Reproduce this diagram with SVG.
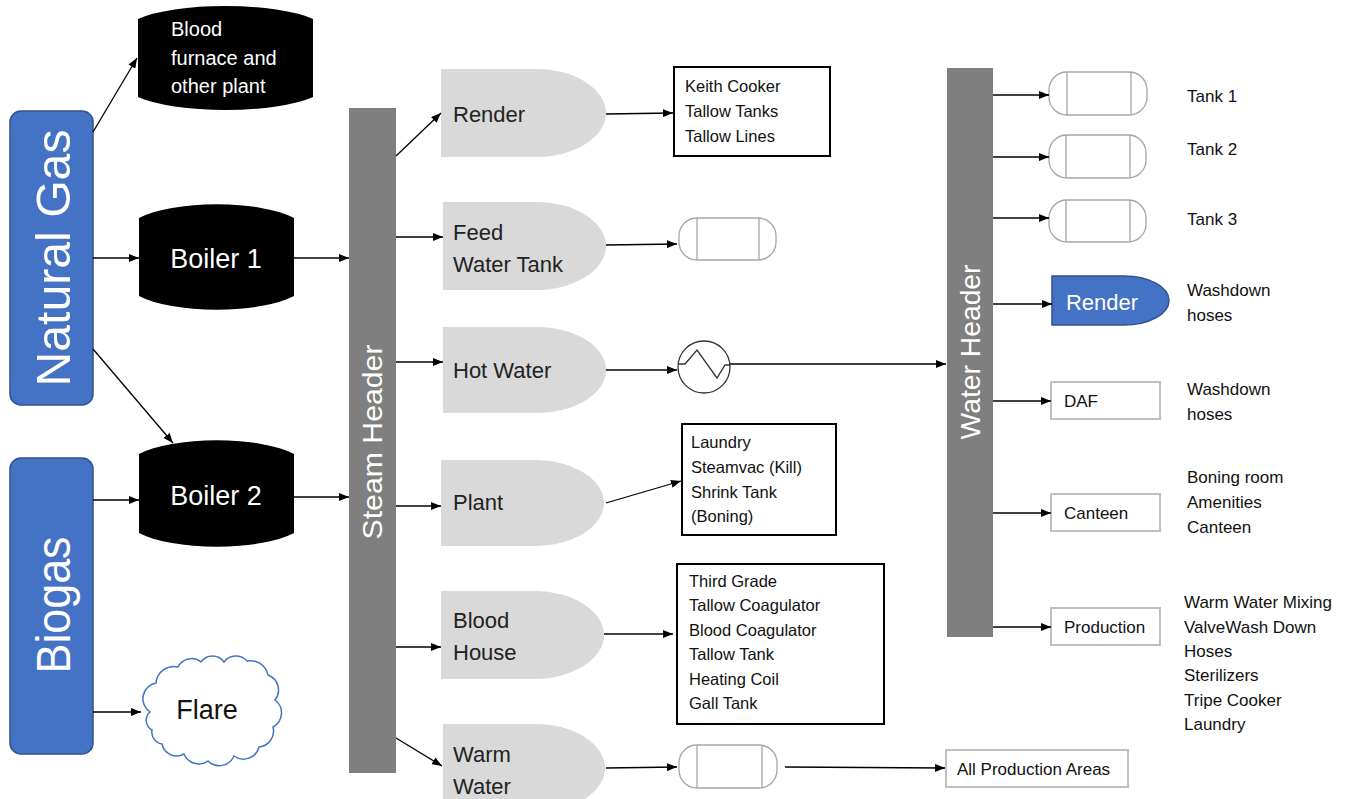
<svg xmlns="http://www.w3.org/2000/svg" width="1354" height="799" viewBox="0 0 1354 799">
<style>
text{font-family:"Liberation Sans",Arial,sans-serif;}
.src{fill:#4472c4;stroke:#2f528f;stroke-width:1.5;}
.src-t{fill:#fff;font-size:48px;}
.drum{fill:#000;}
.drum-t{fill:#fff;font-size:27px;}
.hdr{fill:#7f7f7f;}
.hdr-t{fill:#fff;font-size:28px;}
.dsh{fill:#d9d9d9;}
.dsh-t{fill:#222;font-size:22px;}
.box{fill:#fff;stroke:#000;stroke-width:2;}
.gbox{fill:#fff;stroke:#bfbfbf;stroke-width:2;}
.tank{fill:#fff;stroke:#a6a6a6;stroke-width:1.3;}
.sm{fill:#111;font-size:16.5px;}
.lbl{fill:#111;font-size:17px;}
.conn line,.conn polyline{stroke:#000;stroke-width:1.3;fill:none;}
</style>
<defs>
<marker id="arr" markerUnits="userSpaceOnUse" markerWidth="10" markerHeight="8" refX="10" refY="4" orient="auto">
<path d="M0,0 L10,4 L0,8 Z" fill="#000"/>
</marker>
</defs>

<g id="natural-gas">
<rect class="src" x="10" y="111" width="83" height="294" rx="11"/>
<text class="src-t" transform="translate(70,258) rotate(-90)" text-anchor="middle" textLength="257" lengthAdjust="spacingAndGlyphs">Natural Gas</text>
</g>
<g id="biogas">
<rect class="src" x="10" y="458" width="83" height="296" rx="11"/>
<text class="src-t" transform="translate(70,605) rotate(-90)" text-anchor="middle" textLength="137" lengthAdjust="spacingAndGlyphs">Biogas</text>
</g>

<g id="blood-furnace">
<path class="drum" d="M138,19 A100,25 0 0 1 313,19 L313,97 A100,25 0 0 1 138,97 Z"/>
<text class="drum-t" style="font-size:20px" x="171" y="36">Blood</text>
<text class="drum-t" style="font-size:20px" x="171" y="65">furnace and</text>
<text class="drum-t" style="font-size:20px" x="171" y="93">other plant</text>
</g>
<g id="boiler-1">
<path class="drum" d="M139,218 A90,28 0 0 1 294,218 L294,296 A90,28 0 0 1 139,296 Z"/>
<text class="drum-t" x="216" y="268" text-anchor="middle">Boiler 1</text>
</g>
<g id="boiler-2">
<path class="drum" d="M139,454 A90,28 0 0 1 294,454 L294,533 A90,28 0 0 1 139,533 Z"/>
<text class="drum-t" x="216" y="505" text-anchor="middle">Boiler 2</text>
</g>
<g id="flare">
<path d="M150,712 A16,16 0 0 1 156,683 A18,18 0 0 1 178,667 A15,15 0 0 1 201,662 A14,14 0 0 1 224,662 A15,15 0 0 1 247,661 A18,18 0 0 1 268,675 A16,16 0 0 1 275,700 A16,16 0 0 1 273,727 A16,16 0 0 1 259,747 A16,16 0 0 1 234,756 A16,16 0 0 1 208,761 A16,16 0 0 1 184,754 A15,15 0 0 1 162,744 A12,12 0 0 1 152,730 A11,11 0 0 1 150,712 Z" fill="#fff" stroke="#4472c4" stroke-width="1.5"/>
<text x="207" y="719" text-anchor="middle" style="font-size:27px;fill:#111">Flare</text>
</g>

<g id="steam-header">
<rect class="hdr" x="349" y="108" width="47" height="665"/>
<text class="hdr-t" transform="translate(382,442) rotate(-90)" text-anchor="middle" textLength="195" lengthAdjust="spacingAndGlyphs">Steam Header</text>
</g>

<g id="render">
<path class="dsh" d="M441,69 H536 A70,44 0 0 1 536,157 H441 Z"/>
<text class="dsh-t" x="453" y="122">Render</text>
</g>
<g id="feed-water-tank">
<path class="dsh" d="M443,202 H536 A70,44 0 0 1 536,290 H443 Z"/>
<text class="dsh-t" x="453" y="240">Feed</text>
<text class="dsh-t" x="453" y="272">Water Tank</text>
</g>
<g id="hot-water">
<path class="dsh" d="M443,327 H536 A70,43 0 0 1 536,413 H443 Z"/>
<text class="dsh-t" x="453" y="378">Hot Water</text>
</g>
<g id="plant">
<path class="dsh" d="M441,460 H534 A70,43 0 0 1 534,546 H441 Z"/>
<text class="dsh-t" x="453" y="510">Plant</text>
</g>
<g id="blood-house">
<path class="dsh" d="M441,591 H534 A70,44 0 0 1 534,679 H441 Z"/>
<text class="dsh-t" x="453" y="628">Blood</text>
<text class="dsh-t" x="453" y="660">House</text>
</g>
<g id="warm-water">
<path class="dsh" d="M443,724 H535 A70,44 0 0 1 535,812 H443 Z"/>
<text class="dsh-t" x="453" y="762">Warm</text>
<text class="dsh-t" x="453" y="794">Water</text>
</g>

<g id="render-list">
<rect class="box" x="674" y="67" width="156" height="89"/>
<text class="sm" x="685" y="92">Keith Cooker</text>
<text class="sm" x="685" y="117">Tallow Tanks</text>
<text class="sm" x="685" y="142">Tallow Lines</text>
</g>
<g id="feed-tank">
<rect class="tank" x="679" y="218" width="97" height="42" rx="18"/>
<line class="tank" x1="697" y1="218" x2="697" y2="260"/>
<line class="tank" x1="759" y1="218" x2="759" y2="260"/>
</g>
<g id="heat-exchanger">
<circle cx="704" cy="367" r="26" fill="#fff" stroke="#333" stroke-width="1.3"/>
<polyline points="678,364 685,364 697,350 717,378 725,365 730,365" fill="none" stroke="#333" stroke-width="1.3"/>
</g>
<g id="plant-list">
<rect class="box" x="682" y="424" width="154" height="111"/>
<text class="sm" x="691" y="448">Laundry</text>
<text class="sm" x="691" y="473">Steamvac (Kill)</text>
<text class="sm" x="691" y="498">Shrink Tank</text>
<text class="sm" x="691" y="522">(Boning)</text>
</g>
<g id="blood-house-list">
<rect class="box" x="677" y="564" width="207" height="160"/>
<text class="sm" x="689" y="587">Third Grade</text>
<text class="sm" x="689" y="611">Tallow Coagulator</text>
<text class="sm" x="689" y="636">Blood Coagulator</text>
<text class="sm" x="689" y="660">Tallow Tank</text>
<text class="sm" x="689" y="685">Heating Coil</text>
<text class="sm" x="689" y="709">Gall Tank</text>
</g>
<g id="warm-tank">
<rect class="tank" x="679" y="745" width="98" height="43" rx="18"/>
<line class="tank" x1="697" y1="745" x2="697" y2="788"/>
<line class="tank" x1="762" y1="745" x2="762" y2="788"/>
</g>
<g id="all-production">
<rect class="gbox" x="946" y="750" width="182" height="37"/>
<text class="lbl" x="957" y="775">All Production Areas</text>
</g>

<g id="water-header">
<rect class="hdr" x="947" y="68" width="46" height="569"/>
<text class="hdr-t" transform="translate(980,352) rotate(-90)" text-anchor="middle" textLength="175" lengthAdjust="spacingAndGlyphs">Water Header</text>
</g>

<g id="tank-1">
<rect class="tank" x="1049" y="72" width="98" height="43" rx="18"/>
<line class="tank" x1="1067" y1="72" x2="1067" y2="115"/>
<line class="tank" x1="1131" y1="72" x2="1131" y2="115"/>
<text class="lbl" x="1187" y="102">Tank 1</text>
</g>
<g id="tank-2">
<rect class="tank" x="1049" y="135" width="97" height="43" rx="18"/>
<line class="tank" x1="1066" y1="135" x2="1066" y2="178"/>
<line class="tank" x1="1130" y1="135" x2="1130" y2="178"/>
<text class="lbl" x="1187" y="155">Tank 2</text>
</g>
<g id="tank-3">
<rect class="tank" x="1049" y="200" width="97" height="42" rx="18"/>
<line class="tank" x1="1066" y1="200" x2="1066" y2="242"/>
<line class="tank" x1="1130" y1="200" x2="1130" y2="242"/>
<text class="lbl" x="1187" y="225">Tank 3</text>
</g>
<g id="render-water">
<path d="M1052,276 H1124 A45,24.5 0 0 1 1124,325 H1052 Z" fill="#4472c4" stroke="#2f528f" stroke-width="1.5"/>
<text x="1102" y="310" text-anchor="middle" style="font-size:22px;fill:#fff">Render</text>
<text class="lbl" x="1187" y="296">Washdown</text>
<text class="lbl" x="1187" y="321">hoses</text>
</g>
<g id="daf">
<rect class="gbox" x="1051" y="382" width="109" height="37"/>
<text class="lbl" x="1064" y="407">DAF</text>
<text class="lbl" x="1187" y="395">Washdown</text>
<text class="lbl" x="1187" y="420">hoses</text>
</g>
<g id="canteen">
<rect class="gbox" x="1051" y="494" width="109" height="37"/>
<text class="lbl" x="1064" y="519">Canteen</text>
<text class="lbl" x="1187" y="483">Boning room</text>
<text class="lbl" x="1187" y="508">Amenities</text>
<text class="lbl" x="1187" y="533">Canteen</text>
</g>
<g id="production">
<rect class="gbox" x="1051" y="608" width="109" height="37"/>
<text class="lbl" x="1064" y="633">Production</text>
<text class="lbl" x="1184" y="608">Warm Water Mixing</text>
<text class="lbl" x="1184" y="633">ValveWash Down</text>
<text class="lbl" x="1184" y="657">Hoses</text>
<text class="lbl" x="1184" y="681">Sterilizers</text>
<text class="lbl" x="1184" y="706">Tripe Cooker</text>
<text class="lbl" x="1184" y="730">Laundry</text>
</g>

<g id="connectors" class="conn">
<line x1="93" y1="132" x2="137" y2="58" marker-end="url(#arr)"/>
<line x1="93" y1="258" x2="139" y2="258" marker-end="url(#arr)"/>
<line x1="93" y1="349" x2="173" y2="443" marker-end="url(#arr)"/>
<line x1="93" y1="500" x2="139" y2="500" marker-end="url(#arr)"/>
<line x1="93" y1="712" x2="141" y2="712" marker-end="url(#arr)"/>
<line x1="294" y1="258" x2="349" y2="258" marker-end="url(#arr)"/>
<line x1="294" y1="497" x2="349" y2="497" marker-end="url(#arr)"/>
<line x1="396" y1="156" x2="441" y2="113" marker-end="url(#arr)"/>
<line x1="396" y1="237" x2="443" y2="237" marker-end="url(#arr)"/>
<line x1="396" y1="362" x2="443" y2="362" marker-end="url(#arr)"/>
<line x1="396" y1="506" x2="441" y2="506" marker-end="url(#arr)"/>
<line x1="396" y1="647" x2="441" y2="647" marker-end="url(#arr)"/>
<line x1="396" y1="738" x2="442" y2="766" marker-end="url(#arr)"/>
<line x1="606" y1="114" x2="673" y2="113" marker-end="url(#arr)"/>
<line x1="606" y1="245" x2="677" y2="244" marker-end="url(#arr)"/>
<line x1="606" y1="370" x2="677" y2="370" marker-end="url(#arr)"/>
<line x1="606" y1="503" x2="681" y2="481" marker-end="url(#arr)"/>
<line x1="604" y1="634" x2="673" y2="634" marker-end="url(#arr)"/>
<line x1="606" y1="768" x2="677" y2="767" marker-end="url(#arr)"/>
<line x1="730" y1="364" x2="946" y2="364" marker-end="url(#arr)"/>
<line x1="785" y1="767" x2="945" y2="768" marker-end="url(#arr)"/>
<line x1="993" y1="95" x2="1049" y2="95" marker-end="url(#arr)"/>
<line x1="993" y1="157" x2="1049" y2="157" marker-end="url(#arr)"/>
<line x1="993" y1="218" x2="1049" y2="218" marker-end="url(#arr)"/>
<line x1="993" y1="304" x2="1052" y2="304" marker-end="url(#arr)"/>
<line x1="993" y1="401" x2="1051" y2="401" marker-end="url(#arr)"/>
<line x1="993" y1="513" x2="1051" y2="513" marker-end="url(#arr)"/>
<line x1="993" y1="627" x2="1051" y2="627" marker-end="url(#arr)"/>
</g>
</svg>
